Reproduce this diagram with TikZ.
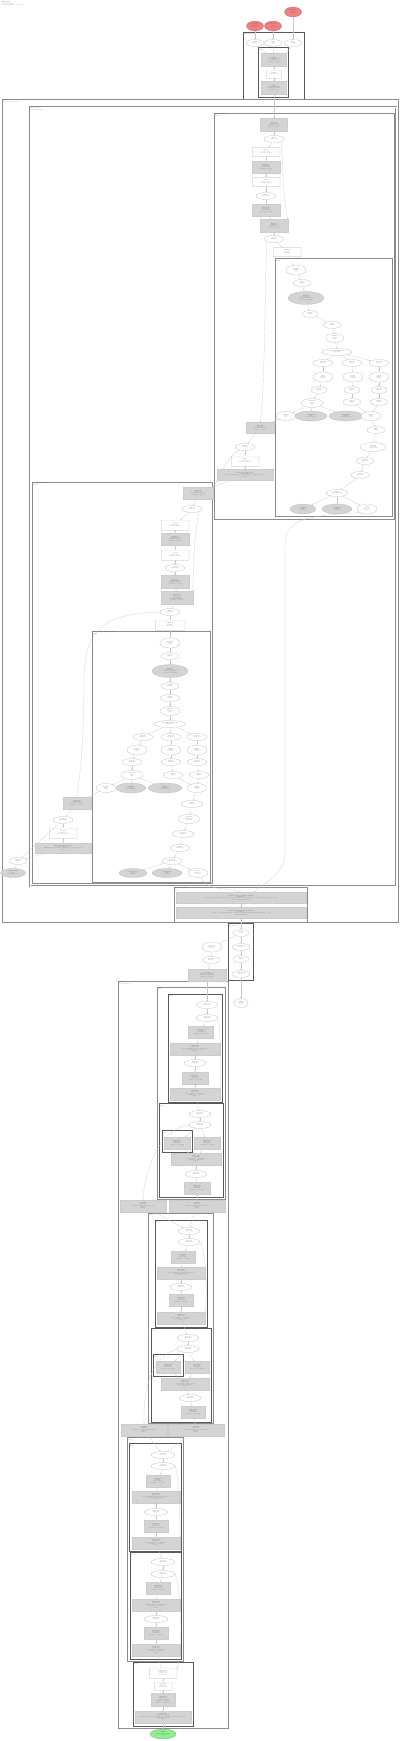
\documentclass[tikz,border=0pt]{standalone}
\usepackage{fontspec}
\usetikzlibrary{shapes.geometric,arrows.meta,positioning}
\definecolor{parred}{RGB}{240,128,128}
\definecolor{resgreen}{RGB}{144,238,144}
\newcommand{\hlo}{\fontsize{1.1}{1.35}\selectfont}
\tikzstyle{op}=[ellipse, draw=black!30, fill=white, line width=0.2pt, inner sep=0pt, minimum width=20pt, minimum height=7pt, font=\hlo, align=center, text=black!75]
\tikzstyle{cop}=[op, fill=black!17]
\tikzstyle{fus}=[rectangle, draw=black!20, fill=black!17, line width=0.2pt, inner sep=0pt, minimum width=28pt, minimum height=12pt, font=\hlo, align=center, text=black!75]
\tikzstyle{plainbox}=[rectangle, draw=none, fill=white, inner sep=0pt, minimum width=28pt, minimum height=9pt, font=\hlo, align=center, text=black!75,
  path picture={\fill[black!30, even odd rule] (path picture bounding box.south west) rectangle (path picture bounding box.north east)
    ([shift={(0.25pt,-0.25pt)}]path picture bounding box.south west) rectangle ([shift={(-0.25pt,0.25pt)}]path picture bounding box.north east);}]
\tikzstyle{par}=[op, fill=parred, draw=red!40!black!60, minimum width=17pt, minimum height=10pt]
\tikzstyle{res}=[op, fill=resgreen, draw=green!40!black!60, minimum width=26pt, minimum height=10pt]
\tikzstyle{clu}=[draw=black!45, line width=0.5pt]
\tikzstyle{bold clu}=[draw=black!65, line width=0.8pt]
\tikzstyle{lbl}=[anchor=north west, inner sep=0.7pt, font=\hlo, align=left, text=black!75]
\tikzstyle{arrow}=[-{Stealth[length=1.3pt,width=1.1pt]}, draw=black!22, line width=0.2pt]

\begin{document}
\begin{tikzpicture}[x=1pt, y=-1pt]
\path[fill=white, use as bounding box] (0,0) rectangle (400,1741);
\node[lbl] (title) at (1,1) {\textbf{HloModule}\\jit\_train\_step.42\\entry computation, 3 parameters};

% clusters
\draw[bold clu] (243,32) rectangle (304,99);
\node[lbl] (lentry) at (243,32) {entry\\Computation main};
\draw[bold clu] (258,47) rectangle (288,97);
\node[lbl] (lprep) at (258,47) {fusion.7\\kLoop};
\draw[clu, line width=1pt] (2,99) rectangle (398,922);
\node[lbl] (lwhile) at (2,99) {while.3\\Subcomputation body};
\draw[clu, double=white, double distance=0.5pt, line width=0.35pt] (30,107) rectangle (396,886);
\node[lbl] (lbody) at (30,107) {while.3 body\\Computation loop};
\draw[clu] (214,113) rectangle (394,519);
\node[lbl] (lfwd) at (214,113) {fusion.21 (forward)\\kOutput};
\draw[clu] (275,258) rectangle (392,516);
\node[lbl] (lred1) at (275,258) {reduce.33 (softmax, cross\_entropy)\\kInput};
\draw[clu] (32,482) rectangle (212,883);
\node[lbl] (lbwd) at (32,482) {fusion.48 (backward)\\kOutput};
\draw[clu] (92,631) rectangle (210,882);
\node[lbl] (lred2) at (92,631) {reduce.57 (grad, sum\_over\_batch)\\kInput};
\draw[clu] (174,887) rectangle (307,922);
\node[lbl] (lupd) at (174,887) {fusion.70 (update)\\kLoop};
\draw[bold clu] (228,923) rectangle (253,980);
\node[lbl] (lcond) at (228,923) {cond.4\\Condition};
\draw[clu, line width=1pt] (118,981) rectangle (228,1728);
\node[lbl] (lpost) at (118,981) {fusion.80\\Subcomputation};
\draw[clu, line width=0.8pt] (157,987) rectangle (225,1199);
\node[lbl] (lst1) at (157,987) {stage.1\\kLoop};
\draw[bold clu] (168,994) rectangle (222,1102);
\node[lbl] (lst1a) at (168,994) {norm.1\\kLoop};
\draw[bold clu] (159,1103) rectangle (223,1197);
\node[lbl] (lst1b) at (159,1103) {scale.1\\kLoop};
\draw[bold clu] (162,1130) rectangle (192,1152);
\node[lbl] (lst1c) at (162,1130) {bcast.1\\kLoop};
\draw[clu, line width=0.8pt] (148,1213) rectangle (213,1423);
\node[lbl] (lst2) at (148,1213) {stage.2\\kLoop};
\draw[bold clu] (155,1220) rectangle (207,1327);
\node[lbl] (lst2a) at (155,1220) {norm.2\\kLoop};
\draw[bold clu] (151,1328) rectangle (211,1422);
\node[lbl] (lst2b) at (151,1328) {scale.2\\kLoop};
\draw[bold clu] (153,1354) rectangle (183,1376);
\node[lbl] (lst2c) at (153,1354) {bcast.2\\kLoop};
\draw[clu, line width=0.8pt] (127,1437) rectangle (183,1661);
\node[lbl] (lst3) at (127,1437) {stage.3\\kLoop};
\draw[bold clu] (129,1443) rectangle (181,1551);
\node[lbl] (lst3a) at (129,1443) {norm.3\\kLoop};
\draw[bold clu] (130,1552) rectangle (181,1659);
\node[lbl] (lst3b) at (130,1552) {scale.3\\kLoop};
\draw[bold clu] (133,1662) rectangle (193,1726);
\node[lbl] (lout) at (133,1662) {output\\kLoop};

% entry
\node[par] (p0) at (293,12) {\textbf{Parameter 0}\\f32[512]\\arg.0};
\node[par] (p1) at (255,26) {\textbf{Parameter 1}\\f32[64,512]\\arg.1};
\node[par] (p2) at (273,26) {\textbf{Parameter 2}\\s32[]\\arg.2};
\node[op, minimum width=18pt] (a1) at (255,43) {\textbf{copy.1}\\f32[64,512]};
\node[op, minimum width=18pt] (a2) at (273,43) {\textbf{copy.2}\\s32[]};
\node[op, minimum width=18pt] (a3) at (293,43) {\textbf{copy.3}\\f32[512]};
\node[fus, minimum width=25pt, minimum height=13pt] (a4) at (274,60) {\textbf{tuple.4}\\(s32[], f32[64,512],\\f32[512])\\operand 0 = copy.2};
\node[plainbox, minimum width=15pt, minimum height=8pt] (a5) at (274,74) {\textbf{while.5}\\trip count 16};
\node[fus, minimum width=25pt, minimum height=13pt] (a6) at (274,88) {\textbf{tuple.6}\\(s32[], f32[64,512])\\get-tuple-element\\index 0, 1, 2};

% forward
\node[fus, minimum width=27pt, minimum height=13pt] (b1) at (274,125) {\textbf{fusion.22}\\f32[64,512]\\operand 0 = gte.8\\operand 1 = gte.9};
\node[op] (b2) at (274,139) {\textbf{gte.10}\\f32[64,512]};
\node[plainbox] (b3) at (266,152) {\textbf{dot.11}\\f32[64,128]\\lhs=\{1\}, rhs=\{0\}};
\node[fus] (b4) at (266,167) {\textbf{fusion.12}\\f32[64,128]\\add, broadcast\\operand 0 = dot.11};
\node[plainbox] (b5) at (266,182) {\textbf{dot.13}\\f32[64,128]\\lhs=\{1\}, rhs=\{0\}};
\node[op] (b6) at (266,196) {\textbf{tanh.14}\\f32[64,128]};
\node[fus] (b7) at (266,210) {\textbf{fusion.15}\\f32[64,10]\\add, broadcast\\operand 0 = tanh.14};
\node[fus, minimum height=13pt] (b8) at (274,226) {\textbf{fusion.16}\\f32[64,10]\\multiply, add\\operand 0 = gte.10};
\node[op] (b9) at (274,239) {\textbf{exp.17}\\f32[64,10]};
\node[plainbox] (b10) at (287,252) {\textbf{reduce.18}\\f32[64]\\dims=\{1\}};
\node[op, minimum height=10pt] (c1) at (296,270) {\textbf{constant.19}\\f32[]\\value 0};
\node[op, minimum width=18pt] (c2) at (302,283) {\textbf{max.20}\\f32[64]};
\node[cop, minimum width=36pt, minimum height=13pt] (c3) at (306,298) {\textbf{fusion.23}\\f32[64,10]\\subtract, exponential\\operand 0 = max.20};
\node[op, minimum width=16pt] (c4) at (310,314) {\textbf{sum.24}\\f32[64]};
\node[op, minimum width=18pt] (c5) at (332,325) {\textbf{log.25}\\f32[64]};
\node[op, minimum width=18pt, minimum height=9pt] (c6) at (335,338) {\textbf{divide.26}\\f32[64,10]\\prob};
\node[op, minimum width=30pt] (c7) at (337,352) {\textbf{get-tuple-element.27}\\f32[64,10]};
\node[op] (c8) at (323,363) {\textbf{slice.28}\\f32[64,4]};
\node[op] (c9) at (352,363) {\textbf{slice.29}\\f32[64,3]};
\node[op] (c10) at (379,363) {\textbf{slice.30}\\f32[64,3]};
\node[op, minimum height=10pt] (c11) at (323,377) {\textbf{log.31}\\f32[64,4]\\natural};
\node[op, minimum height=10pt] (c12) at (353,377) {\textbf{log.32}\\f32[64,3]\\natural};
\node[op, minimum height=10pt] (c13) at (379,377) {\textbf{log.34}\\f32[64,3]\\natural};
\node[op, minimum width=16pt] (c14) at (319,390) {\textbf{mul.35}\\f32[64,4]};
\node[op, minimum width=16pt] (c15) at (352,390) {\textbf{mul.36}\\f32[64,3]};
\node[op, minimum width=16pt] (c16) at (379,390) {\textbf{mul.37}\\f32[64,3]};
\node[op, minimum width=22pt, minimum height=9pt] (c17) at (312,403) {\textbf{reduce.38}\\f32[64]\\tuple};
\node[op, minimum width=18pt] (c18) at (352,402) {\textbf{neg.39}\\f32[64]};
\node[op, minimum width=18pt] (c19) at (379,402) {\textbf{neg.40}\\f32[64]};
\node[op, minimum height=9pt] (c20) at (286,416) {\textbf{mean.41}\\f32[]\\loss};
\node[cop, minimum width=32pt, minimum height=10pt] (c21) at (311,416) {\textbf{constant.43}\\f32[]\\value 0.015625};
\node[cop, minimum width=34pt, minimum height=10pt] (c22) at (346,416) {\textbf{constant.44}\\f32[64]\\broadcast of 1.0};
\node[op, minimum height=9pt] (c23) at (371,416) {\textbf{add.45}\\f32[64]\\sum};
\node[op, minimum width=18pt] (c24) at (376,430) {\textbf{sub.46}\\f32[64]};
\node[op, minimum width=26pt, minimum height=9pt] (c25) at (373,447) {\textbf{select.47}\\f32[64,10]\\onehot mask};
\node[op, minimum width=18pt] (c26) at (365,461) {\textbf{mul.49}\\f32[64,10]};
\node[op, minimum width=18pt] (c27) at (360,475) {\textbf{div.50}\\f32[64,10]};
\node[op, minimum width=22pt] (c28) at (337,493) {\textbf{tuple.51}\\(f32[], f32[64,10])};
\node[cop, minimum width=26pt, minimum height=10pt] (c29) at (303,509) {\textbf{constant.52}\\f32[]\\value 1.0};
\node[cop, minimum width=30pt, minimum height=10pt] (c30) at (337,509) {\textbf{constant.53}\\s32[64]\\labels iota};
\node[op, minimum height=10pt] (c31) at (367,509) {\textbf{gte.54}\\f32[64,10]\\grad};
\node[fus, minimum height=11pt] (b11) at (260,428) {\textbf{fusion.55}\\f32[64,10]\\operand 0 = mean.41\\operand 1 = exp.17};
\node[op] (b12) at (245,447) {\textbf{gte.56}\\f32[64,10]};
\node[plainbox, minimum height=10pt] (b13) at (245,461) {\textbf{dot.58}\\f32[64,128]\\lhs=\{1\}, rhs=\{1\}};
\node[fus, minimum width=56pt, minimum height=11pt] (b14) at (245,475) {\textbf{fusion.59 (tanh\_grad)}\\f32[64,128]\\subtract, multiply, operand 0 = dot.58, operand 1 = tanh.14\\kLoop};

% backward
\node[fus, minimum width=30pt] (d1) at (198,493) {\textbf{fusion.60}\\f32[64,128]\\operand 0 = fusion.59\\operand 1 = gte.56};
\node[op] (d2) at (192,509) {\textbf{gte.61}\\f32[64,128]};
\node[plainbox, minimum height=10pt] (d3) at (175,525) {\textbf{dot.62}\\f32[128,10]\\lhs=\{0\}, rhs=\{0\}};
\node[fus] (d4) at (175,539) {\textbf{fusion.63}\\f32[128,10]\\multiply, broadcast\\operand 0 = dot.62};
\node[plainbox, minimum height=10pt] (d5) at (175,555) {\textbf{dot.64}\\f32[512,128]\\lhs=\{0\}, rhs=\{0\}};
\node[op] (d6) at (175,568) {\textbf{copy.65}\\f32[512,128]};
\node[fus, minimum height=13pt] (d7) at (175,582) {\textbf{fusion.66}\\f32[512,128]\\multiply, subtract\\operand 0 = copy.65};
\node[fus, minimum width=32pt, minimum height=13pt] (d8) at (177,598) {\textbf{fusion.67}\\f32[512,128]\\add, multiply\\operand 0 = fusion.66\\operand 1 = gte.61};
\node[op] (d9) at (170,612) {\textbf{gte.68}\\f32[512,128]};
\node[plainbox, minimum width=30pt, minimum height=10pt] (d10) at (170,625) {\textbf{reduce.69}\\f32[128]\\dims=\{0\}};
\node[op, minimum height=10pt] (f1) at (170,643) {\textbf{constant.71}\\f32[]\\value 0};
\node[op, minimum width=18pt] (f2) at (170,656) {\textbf{max.72}\\f32[128]};
\node[cop, minimum width=36pt, minimum height=13pt] (f3) at (170,671) {\textbf{fusion.73}\\f32[128,64]\\subtract, exponential\\operand 0 = max.72};
\node[op, minimum width=18pt] (f4) at (170,686) {\textbf{sum.74}\\f32[128]};
\node[op] (f5) at (170,698) {\textbf{log.75}\\f32[128]};
\node[op, minimum height=9pt] (f6) at (170,711) {\textbf{divide.76}\\f32[128,64]\\grad};
\node[op, minimum width=32pt] (f7) at (170,724) {\textbf{get-tuple-element.77}\\f32[128,64]};
\node[op] (f8) at (143,737) {\textbf{slice.78}\\f32[128,32]};
\node[op] (f9) at (171,737) {\textbf{slice.79}\\f32[128,16]};
\node[op] (f10) at (197,737) {\textbf{slice.81}\\f32[128,16]};
\node[op, minimum height=10pt] (f11) at (137,750) {\textbf{abs.82}\\f32[128,32]\\norm};
\node[op, minimum height=10pt] (f12) at (171,750) {\textbf{abs.83}\\f32[128,16]\\norm};
\node[op, minimum height=10pt] (f13) at (197,750) {\textbf{abs.84}\\f32[128,16]\\norm};
\node[op] (f14) at (132,762) {\textbf{mul.85}\\f32[128,32]};
\node[op] (f15) at (171,762) {\textbf{mul.86}\\f32[128,16]};
\node[op] (f16) at (197,762) {\textbf{mul.87}\\f32[128,16]};
\node[op, minimum width=22pt, minimum height=9pt] (f17) at (132,775) {\textbf{reduce.88}\\f32[128]\\tuple};
\node[op] (f18) at (173,775) {\textbf{neg.89}\\f32[128]};
\node[op] (f19) at (199,775) {\textbf{neg.90}\\f32[128]};
\node[op, minimum height=9pt] (f20) at (106,788) {\textbf{mean.91}\\f32[]\\norm};
\node[cop, minimum width=30pt, minimum height=10pt] (f21) at (131,788) {\textbf{constant.92}\\f32[]\\value 0.0078125};
\node[cop, minimum width=34pt, minimum height=10pt] (f22) at (165,788) {\textbf{constant.93}\\f32[128]\\broadcast of 1.0};
\node[op, minimum height=9pt] (f23) at (197,788) {\textbf{add.94}\\f32[128]\\sum};
\node[op, minimum width=22pt] (f24) at (192,804) {\textbf{sub.95}\\f32[128]};
\node[op, minimum width=22pt, minimum height=9pt] (f25) at (189,819) {\textbf{select.96}\\f32[128,64]\\clip mask};
\node[op, minimum width=22pt] (f26) at (183,834) {\textbf{mul.97}\\f32[128,64]};
\node[op] (f27) at (180,848) {\textbf{div.98}\\f32[128,64]};
\node[op] (f28) at (172,861) {\textbf{tuple.99}\\(f32[], f32[128])};
\node[cop, minimum width=28pt, minimum height=9pt] (f29) at (133,873) {\textbf{constant.100}\\f32[]\\value 1.0};
\node[cop, minimum width=30pt, minimum height=9pt] (f30) at (167,873) {\textbf{constant.101}\\f32[]\\value 1e-8};
\node[op, minimum height=9pt] (f31) at (198,873) {\textbf{gte.102}\\f32[128,64]\\grad};
\node[fus] (d11) at (77,803) {\textbf{fusion.103}\\f32[512,128]\\operand 0 = gte.68\\operand 1 = mean.91};
\node[op] (d12) at (63,820) {\textbf{gte.104}\\f32[512,128]};
\node[plainbox, minimum height=10pt] (d13) at (63,833) {\textbf{dot.105}\\f32[512,64]\\lhs=\{1\}, rhs=\{1\}};
\node[fus, minimum width=56pt, minimum height=10pt] (d14) at (63,848) {\textbf{fusion.106 (input\_grad)}\\f32[512,64]\\multiply, add, operand 0 = dot.105, operand 1 = gte.104\\kLoop};
\node[op, minimum width=18pt] (d15) at (18,861) {\textbf{add.107}\\f32[512]};
\node[cop, minimum width=25pt, minimum height=9pt] (d16) at (13,873) {\textbf{constant.108}\\f32[]\\learning rate 0.01};

% update
\node[fus, minimum width=130pt, minimum height=11pt] (e1) at (241,898) {\textbf{fusion.70 (apply\_gradient\_descent)}\\f32[64,512]\\operand 0 = gte.102, operand 1 = gte.54, operand 2 = add.107, operand 3 = constant.108, operand 4 = gte.10\\subtract, multiply, broadcast};
\node[fus, minimum width=130pt, minimum height=11pt] (e2) at (241,913) {\textbf{fusion.71 (apply\_gradient\_descent)}\\f32[512]\\operand 0 = fusion.70, operand 1 = gte.61, operand 2 = constant.108, operand 3 = copy.3\\subtract, multiply};

% condition
\node[op, minimum width=16pt] (g1) at (241,933) {\textbf{gte.109}\\s32[]};
\node[op, minimum width=18pt] (g2) at (241,947) {\textbf{constant.110}\\s32[]};
\node[op, minimum width=16pt] (g3) at (241,959) {\textbf{add.111}\\s32[]};
\node[op, minimum width=18pt] (g4) at (241,974) {\textbf{compare.112}\\pred[]};
\node[op, minimum height=10pt] (g5) at (212,947) {\textbf{gte.113}\\f32[64,512]\\index 1};
\node[op, minimum width=18pt] (g6) at (211,960) {\textbf{gte.114}\\f32[512]};
\node[fus, minimum width=38pt] (g7) at (207,975) {\textbf{tuple.115}\\(f32[64,512], f32[512])\\operand 0 = gte.113\\operand 1 = gte.114};
\node[op, minimum width=14pt, minimum height=9pt] (g8) at (241,1003) {\textbf{ROOT}\\pred[]\\lt 16};

% post processing
\node[op, minimum width=22pt] (j1) at (207,1005) {\textbf{gte.116}\\f32[64,512]};
\node[op, minimum width=22pt] (j2) at (207,1018) {\textbf{copy.117}\\f32[64,512]};
\node[fus, minimum width=25pt] (j3) at (201,1032) {\textbf{fusion.118}\\f32[64]\\reduce, square\\operand 0 = copy.117};
\node[fus, minimum width=50pt] (j4) at (195,1049) {\textbf{fusion.119}\\f32[64,512]\\rsqrt, multiply, operand 0 = fusion.118\\operand 1 = copy.117\\kLoop};
\node[op, minimum width=22pt] (j5) at (195,1063) {\textbf{copy.120}\\f32[64,512]};
\node[fus, minimum width=26pt] (j6) at (195,1078) {\textbf{fusion.121}\\f32[64]\\reduce, add\\operand 0 = copy.120};
\node[fus, minimum width=50pt] (j7) at (195,1094) {\textbf{fusion.122}\\f32[64,512]\\divide, operand 0 = fusion.121\\operand 1 = copy.117\\kLoop};
\node[op, minimum width=22pt] (k1) at (200,1114) {\textbf{gte.123}\\f32[64,512]};
\node[op, minimum width=22pt] (k2) at (200,1125) {\textbf{copy.124}\\f32[64,512]};
\node[fus, minimum width=26pt] (k3) at (177,1143) {\textbf{fusion.125}\\f32[64,512]\\broadcast\\operand 0 = copy.124};
\node[fus, minimum width=26pt] (k4) at (207,1143) {\textbf{fusion.126}\\f32[64,512]\\multiply\\operand 0 = copy.124};
\node[fus, minimum width=50pt] (k5) at (196,1159) {\textbf{fusion.127}\\f32[64,512]\\add, operand 0 = fusion.125\\operand 1 = fusion.126\\kLoop};
\node[op, minimum width=22pt] (k6) at (196,1174) {\textbf{copy.128}\\f32[64,512]};
\node[fus, minimum width=26pt] (k7) at (197,1188) {\textbf{fusion.129}\\f32[64,512]\\maximum\\operand 0 = copy.128};
\node[fus, minimum width=46pt] (m1) at (143,1206) {\textbf{copy.130}\\f32[64,512]\\operand 0 = copy.124, layout \{0,1\}\\bitcast\\kLoop};
\node[fus, minimum width=56pt] (m2) at (197,1206) {\textbf{copy.131}\\f32[64,512]\\operand 0 = fusion.129, layout \{0,1\}\\bitcast\\kLoop};
\node[op, minimum width=22pt] (n1) at (189,1231) {\textbf{add.132}\\f32[64,512]};
\node[op, minimum width=22pt] (n2) at (189,1242) {\textbf{copy.133}\\f32[64,512]};
\node[fus, minimum width=24pt] (n3) at (183,1257) {\textbf{fusion.134}\\f32[64]\\reduce, square\\operand 0 = copy.133};
\node[fus, minimum width=48pt] (n4) at (181,1273) {\textbf{fusion.135}\\f32[64,512]\\rsqrt, multiply, operand 0 = fusion.134\\operand 1 = copy.133\\kLoop};
\node[op, minimum width=22pt] (n5) at (181,1287) {\textbf{copy.136}\\f32[64,512]};
\node[fus, minimum width=24pt] (n6) at (181,1300) {\textbf{fusion.137}\\f32[64]\\reduce, add\\operand 0 = copy.136};
\node[fus, minimum width=48pt] (n7) at (181,1318) {\textbf{fusion.138}\\f32[64,512]\\divide, operand 0 = fusion.137\\operand 1 = copy.133\\kLoop};
\node[op, minimum width=22pt] (o1) at (188,1338) {\textbf{gte.139}\\f32[64,512]};
\node[op, minimum width=22pt] (o2) at (188,1349) {\textbf{copy.140}\\f32[64,512]};
\node[fus, minimum width=24pt] (o3) at (168,1367) {\textbf{fusion.141}\\f32[64,512]\\broadcast\\operand 0 = copy.140};
\node[fus, minimum width=24pt] (o4) at (197,1367) {\textbf{fusion.142}\\f32[64,512]\\multiply\\operand 0 = copy.140};
\node[fus, minimum width=48pt] (o5) at (185,1384) {\textbf{fusion.143}\\f32[64,512]\\add, operand 0 = fusion.141\\operand 1 = fusion.142\\kLoop};
\node[op, minimum width=22pt] (o6) at (190,1398) {\textbf{copy.144}\\f32[64,512]};
\node[fus, minimum width=24pt] (o7) at (193,1412) {\textbf{fusion.145}\\f32[64,512]\\maximum\\operand 0 = copy.144};
\node[fus, minimum width=46pt] (q1) at (144,1430) {\textbf{copy.146}\\f32[64,512]\\operand 0 = copy.140, layout \{0,1\}\\bitcast\\kLoop};
\node[fus, minimum width=56pt] (q2) at (196,1430) {\textbf{copy.147}\\f32[64,512]\\operand 0 = fusion.145, layout \{0,1\}\\bitcast\\kLoop};
\node[op, minimum width=24pt] (r1) at (163,1455) {\textbf{add.148}\\f32[64,512]};
\node[op, minimum width=24pt] (r2) at (163,1466) {\textbf{copy.149}\\f32[64,512]};
\node[fus, minimum width=24pt] (r3) at (158,1481) {\textbf{fusion.150}\\f32[64]\\reduce, square\\operand 0 = copy.149};
\node[fus, minimum width=48pt] (r4) at (156,1497) {\textbf{fusion.151}\\f32[64,512]\\rsqrt, multiply, operand 0 = fusion.150\\operand 1 = copy.149\\kLoop};
\node[op, minimum width=24pt] (r5) at (156,1512) {\textbf{copy.152}\\f32[64,512]};
\node[fus, minimum width=24pt] (r6) at (156,1526) {\textbf{fusion.153}\\f32[64]\\reduce, add\\operand 0 = copy.152};
\node[fus, minimum width=48pt] (r7) at (156,1543) {\textbf{fusion.154}\\f32[64,512]\\divide, operand 0 = fusion.153\\operand 1 = copy.149\\kLoop};
\node[op, minimum width=24pt] (s1) at (163,1562) {\textbf{gte.155}\\f32[64,512]};
\node[op, minimum width=24pt] (s2) at (163,1574) {\textbf{copy.156}\\f32[64,512]};
\node[fus, minimum width=24pt] (s3) at (158,1588) {\textbf{fusion.157}\\f32[64,512]\\broadcast\\operand 0 = copy.156};
\node[fus, minimum width=48pt] (s4) at (156,1605) {\textbf{fusion.158}\\f32[64,512]\\multiply, operand 0 = fusion.157\\operand 1 = copy.156\\kLoop};
\node[op, minimum width=24pt] (s5) at (156,1619) {\textbf{copy.159}\\f32[64,512]};
\node[fus, minimum width=24pt] (s6) at (156,1633) {\textbf{fusion.160}\\f32[64,512]\\maximum\\operand 0 = copy.159};
\node[fus, minimum width=48pt] (s7) at (156,1650) {\textbf{fusion.161}\\f32[64,512]\\add, operand 0 = fusion.160\\operand 1 = copy.156\\kLoop};
\node[plainbox, minimum height=10pt] (t1) at (163,1673) {\textbf{transpose.162}\\f32[512,64]\\dims=\{1,0\}\\layout \{0,1\}};
\node[plainbox, minimum width=18pt, minimum height=8pt] (t2) at (163,1686) {\textbf{copy.163}\\f32[512,64]\\layout \{1,0\}};
\node[fus, minimum width=24pt, minimum height=13pt] (t3) at (163,1700) {\textbf{fusion.164}\\f32[512,64]\\convert, multiply\\operand 0 = copy.163\\operand 1 = fusion.161};
\node[fus, minimum width=56pt] (t4) at (163,1717) {\textbf{tuple.165}\\(f32[512,64], f32[512])\\operand 0 = fusion.164, operand 1 = fusion.71, operand 2 = add.107\\result layout \{1,0\}\\kLoop};
\node[res] (out) at (163,1734) {\textbf{ROOT}\\(f32[512,64], f32[512])\\output};

% edges
\draw (p1) edge[arrow] (a1) (p2) edge[arrow] (a2) (p0) edge[arrow] (a3);
\draw (a1) edge[arrow] (a4) (a2) edge[arrow] (a4) (a3) edge[arrow] (a4.north east);
\draw (a4) edge[arrow] (a5) (a5) edge[arrow] (a6) (a6) edge[arrow] (b1);
\draw (b1) edge[arrow] (b2) (b2) edge[arrow] (b3) (b3) edge[arrow] (b4) (b4) edge[arrow] (b5);
\draw (b5) edge[arrow] (b6) (b6) edge[arrow] (b7) (b7) edge[arrow] (b8) (b8) edge[arrow] (b9) (b9) edge[arrow] (b10);
\draw[arrow] (b2.south east) .. controls (283,160) and (283,205) .. (b8.north east);
\draw[arrow] (b9.south west) .. controls (265,270) and (265,395) .. (b11.north);
\draw (b10) edge[arrow] (c1) (c1) edge[arrow] (c2) (c2) edge[arrow] (c3) (c3) edge[arrow] (c4) (c4) edge[arrow] (c5);
\draw (c5) edge[arrow] (c6) (c6) edge[arrow] (c7) (c7) edge[arrow] (c8) (c7) edge[arrow] (c9) (c7) edge[arrow] (c10);
\draw (c8) edge[arrow] (c11) (c11) edge[arrow] (c14) (c14) edge[arrow] (c17);
\draw (c9) edge[arrow] (c12) (c12) edge[arrow] (c15) (c15) edge[arrow] (c18);
\draw (c10) edge[arrow] (c13) (c13) edge[arrow] (c16) (c16) edge[arrow] (c19);
\draw (c17) edge[arrow] (c20) (c17) edge[arrow] (c21) (c17) edge[arrow] (c22);
\draw (c18) edge[arrow] (c23) (c19) edge[arrow] (c23) (c23) edge[arrow] (c24) (c24) edge[arrow] (c25);
\draw (c25) edge[arrow] (c26) (c26) edge[arrow] (c27) (c27) edge[arrow] (c28);
\draw (c28) edge[arrow] (c29) (c28) edge[arrow] (c30) (c28) edge[arrow] (c31);
\draw (c20) edge[arrow] (b11) (b11) edge[arrow] (b12) (b12) edge[arrow] (b13) (b13) edge[arrow] (b14);
\draw (b12) edge[arrow, out=-150, in=55] (d1.north east) (b14) edge[arrow] (d1);
\draw (d1) edge[arrow] (d2) (d2) edge[arrow] (d3) (d3) edge[arrow] (d4) (d4) edge[arrow] (d5) (d5) edge[arrow] (d6);
\draw (d6) edge[arrow] (d7) (d7) edge[arrow] (d8) (d8) edge[arrow] (d9) (d9) edge[arrow] (d10) (d10) edge[arrow] (f1);
\draw[arrow] (d2.south east) .. controls (193,540) and (193,578) .. (d8.north east);
\draw[arrow] (d9.west) .. controls (105,614) and (84,628) .. (84,680) .. controls (84,745) and (80,772) .. (d11.north);
\draw (f1) edge[arrow] (f2) (f2) edge[arrow] (f3) (f3) edge[arrow] (f4) (f4) edge[arrow] (f5) (f5) edge[arrow] (f6) (f6) edge[arrow] (f7);
\draw (f7) edge[arrow] (f8) (f7) edge[arrow] (f9) (f7) edge[arrow] (f10);
\draw (f8) edge[arrow] (f11) (f11) edge[arrow] (f14) (f14) edge[arrow] (f17);
\draw (f9) edge[arrow] (f12) (f12) edge[arrow] (f15) (f15) edge[arrow] (f18);
\draw (f10) edge[arrow] (f13) (f13) edge[arrow] (f16) (f16) edge[arrow] (f19);
\draw (f17) edge[arrow] (f20) (f17) edge[arrow] (f21) (f17) edge[arrow] (f22) (f18) edge[arrow] (f23) (f19) edge[arrow] (f23);
\draw (f23) edge[arrow] (f24) (f24) edge[arrow] (f25) (f25) edge[arrow] (f26) (f26) edge[arrow] (f27) (f27) edge[arrow] (f28);
\draw (f28) edge[arrow] (f29) (f28) edge[arrow] (f30) (f28) edge[arrow] (f31);
\draw (f20) edge[arrow] (d11) (d11) edge[arrow] (d12) (d12) edge[arrow] (d13) (d13) edge[arrow] (d14);
\draw (d12) edge[arrow] (d15) (d14) edge[arrow] (d15) (d15) edge[arrow] (d16);
\draw (f31) edge[arrow, out=-60, in=160] (e1.north);
\draw[arrow] (c31.south west) .. controls (300,516) and (285,520) .. (285,548) -- (285,852) .. controls (285,876) and (262,884) .. ([xshift=12pt]e1.north);
\draw (e1) edge[arrow] (e2) (e2) edge[arrow] (g1);
\draw (g1) edge[arrow] (g2) (g2) edge[arrow] (g3) (g3) edge[arrow] (g4) (g4) edge[arrow] (g8);
\draw (g1) edge[arrow] (g5) (g5) edge[arrow] (g6) (g6) edge[arrow] (g7) (g7) edge[arrow] (j1);
\draw (j1) edge[arrow] (j2) (j2) edge[arrow] (j3) (j3) edge[arrow] (j4) (j4) edge[arrow] (j5) (j5) edge[arrow] (j6);
\draw (j6) edge[arrow] (j7) (j7) edge[arrow] (k1) (k1) edge[arrow] (k2) (k2) edge[arrow] (k3) (k2) edge[arrow] (k4);
\draw[arrow] (j2.east) .. controls (221,1030) and (221,1080) .. (j7.north east);
\draw (k3) edge[arrow] (k5) (k4) edge[arrow] (k5) (k5) edge[arrow] (k6) (k6) edge[arrow] (k7) (k7) edge[arrow] (m2);
\draw[arrow] (k2.west) .. controls (162,1128) and (145,1165) .. (m1.north);
\draw (m1) edge[arrow] (n1) (m2) edge[arrow] (n1) (n1) edge[arrow] (n2) (n2) edge[arrow] (n3) (n3) edge[arrow] (n4);
\draw (n4) edge[arrow] (n5) (n5) edge[arrow] (n6) (n6) edge[arrow] (n7) (n7) edge[arrow] (o1);
\draw[arrow] (n2.east) .. controls (207,1255) and (207,1302) .. (n7.north east);
\draw (o1) edge[arrow] (o2) (o2) edge[arrow] (o3) (o2) edge[arrow] (o4) (o3) edge[arrow] (o5) (o4) edge[arrow] (o5);
\draw (o5) edge[arrow] (o6) (o6) edge[arrow] (o7) (o7) edge[arrow] (q2);
\draw[arrow] (o2.west) .. controls (150,1358) and (143,1392) .. (q1.north);
\draw (q1) edge[arrow] (r1) (q2) edge[arrow] (r1) (r1) edge[arrow] (r2) (r2) edge[arrow] (r3) (r3) edge[arrow] (r4);
\draw (r4) edge[arrow] (r5) (r5) edge[arrow] (r6) (r6) edge[arrow] (r7) (r7) edge[arrow] (s1);
\draw[arrow] (r2.east) .. controls (180,1480) and (180,1528) .. (r7.north east);
\draw (s1) edge[arrow] (s2) (s2) edge[arrow] (s3) (s3) edge[arrow] (s4) (s4) edge[arrow] (s5) (s5) edge[arrow] (s6);
\draw (s6) edge[arrow] (s7) (s7) edge[arrow] (t1);
\draw[arrow] (s2.east) .. controls (182,1590) and (182,1655) .. (t1.north east);
\draw (t1) edge[arrow] (t2) (t2) edge[arrow] (t3) (t3) edge[arrow] (t4) (t4) edge[arrow] (out);
\end{tikzpicture}
\end{document}
